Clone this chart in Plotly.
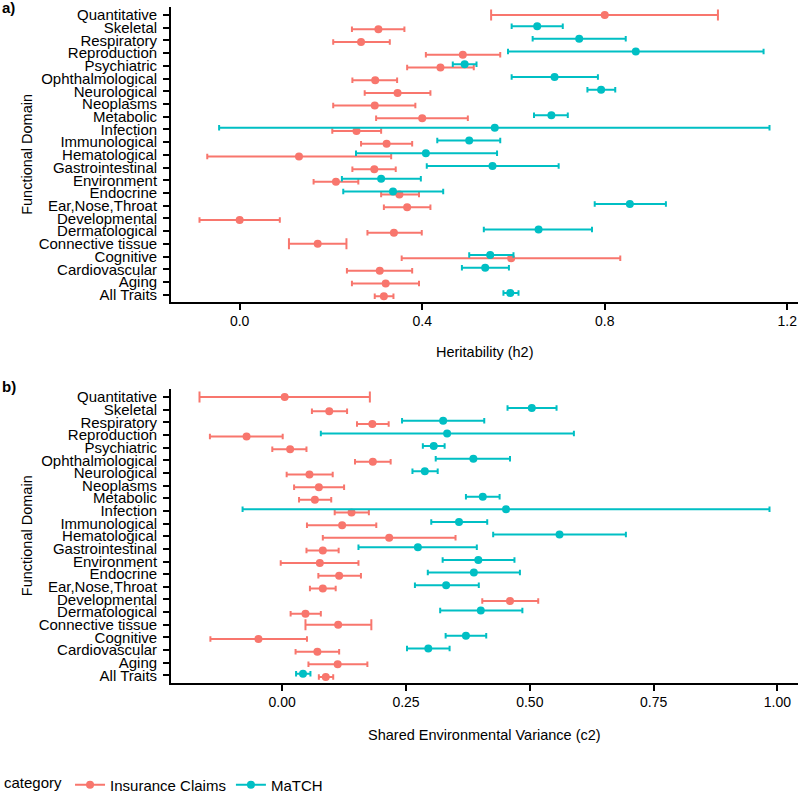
import plotly.graph_objects as go

# ---------------- data (listed top to bottom as shown) ----------------
categories = ["Quantitative", "Skeletal", "Respiratory", "Reproduction", "Psychiatric",
              "Ophthalmological", "Neurological", "Neoplasms", "Metabolic", "Infection",
              "Immunological", "Hematological", "Gastrointestinal", "Environment",
              "Endocrine", "Ear,Nose,Throat", "Developmental", "Dermatological",
              "Connective tissue", "Cognitive", "Cardiovascular", "Aging", "All Traits"]

# categories with no MaTCH row at all (Insurance point is centred)
no_match_row = ["Quantitative", "Connective tissue"]

# Panel a: heritability (h2)
ins_h2 = [0.800, 0.304, 0.266, 0.489, 0.440, 0.297, 0.346, 0.296, 0.400, 0.256, 0.322, 0.130,
          0.295, 0.211, 0.350, 0.367, 0.000, 0.338, 0.171, 0.595, 0.307, 0.320, 0.316]
ins_h2_lo = [0.551, 0.246, 0.205, 0.408, 0.367, 0.247, 0.274, 0.205, 0.299, 0.203, 0.266, -0.071,
             0.247, 0.162, 0.310, 0.316, -0.088, 0.280, 0.108, 0.355, 0.235, 0.246, 0.296]
ins_h2_hi = [1.048, 0.361, 0.329, 0.571, 0.513, 0.345, 0.418, 0.385, 0.500, 0.310, 0.378, 0.332,
             0.342, 0.260, 0.393, 0.418, 0.088, 0.399, 0.234, 0.834, 0.378, 0.393, 0.337]

mat_h2 = [None, 0.652, 0.744, 0.868, 0.493, 0.690, 0.792, None, 0.683, 0.559, 0.503, 0.408,
          0.554, 0.310, 0.336, 0.855, None, 0.655, None, 0.549, 0.538, None, 0.593]
mat_h2_lo = [None, 0.596, 0.642, 0.588, 0.467, 0.596, 0.762, None, 0.645, -0.045, 0.433, 0.255,
             0.410, 0.224, 0.227, 0.778, None, 0.535, None, 0.503, 0.487, None, 0.578]
mat_h2_hi = [None, 0.708, 0.846, 1.148, 0.519, 0.785, 0.823, None, 0.719, 1.161, 0.571, 0.564,
             0.699, 0.397, 0.446, 0.934, None, 0.772, None, 0.600, 0.590, None, 0.611]

# Panel b: shared environmental variance (c2)
ins_c2 = [0.005, 0.095, 0.182, -0.072, 0.016, 0.183, 0.055, 0.074, 0.066, 0.140, 0.121, 0.216,
          0.082, 0.076, 0.115, 0.082, 0.460, 0.047, 0.113, -0.048, 0.071, 0.112, 0.088]
ins_c2_lo = [-0.167, 0.060, 0.151, -0.146, -0.020, 0.147, 0.009, 0.024, 0.034, 0.106, 0.050, 0.082,
             0.049, -0.003, 0.073, 0.056, 0.404, 0.017, 0.047, -0.145, 0.027, 0.053, 0.074]
ins_c2_hi = [0.177, 0.131, 0.215, 0.001, 0.049, 0.219, 0.102, 0.125, 0.099, 0.175, 0.190, 0.350,
             0.114, 0.154, 0.159, 0.108, 0.517, 0.078, 0.180, 0.050, 0.115, 0.172, 0.103]

mat_c2 = [None, 0.504, 0.325, 0.333, 0.306, 0.386, 0.288, None, 0.405, 0.452, 0.357, 0.560,
          0.274, 0.396, 0.387, 0.331, None, 0.401, None, 0.371, 0.295, None, 0.042]
mat_c2_lo = [None, 0.455, 0.242, 0.078, 0.284, 0.310, 0.263, None, 0.371, -0.080, 0.301, 0.426,
             0.154, 0.324, 0.294, 0.268, None, 0.319, None, 0.330, 0.252, None, 0.028]
mat_c2_hi = [None, 0.554, 0.408, 0.589, 0.328, 0.460, 0.314, None, 0.439, 0.984, 0.414, 0.694,
             0.393, 0.469, 0.480, 0.397, None, 0.485, None, 0.412, 0.338, None, 0.057]

x_ticks_a = [0.0, 0.4, 0.8, 1.2]
x_ticks_b = [0.0, 0.25, 0.5, 0.75, 1.0]

# ---------------- styling ----------------
RED = "#F8766D"
TEAL = "#00BFC4"
FONT = "Liberation Sans, Arial, sans-serif"
DODGE = 0.125
W, H = 800, 794
ML, MR = 171, 2
PW = W - ML - MR

n = len(categories)
ypos = {c: n - i for i, c in enumerate(categories)}  # top category highest


def px_x(px):
    return (px - ML) / PW


def px_y(py):
    return 1 - py / H


fig = go.Figure()


def add_panel(ins, ins_lo, ins_hi, mat, mat_lo, mat_hi, xa, ya):
    # Insurance claims: dodged (paired) and centred (no MaTCH row)
    for centred in (False, True):
        xs, ys, ep, em = [], [], [], []
        for c, v, lo, hi in zip(categories, ins, ins_lo, ins_hi):
            if (c in no_match_row) != centred:
                continue
            xs.append(v)
            ys.append(ypos[c] - (0 if centred else DODGE))
            ep.append(hi - v)
            em.append(v - lo)
        fig.add_trace(go.Scatter(
            x=xs, y=ys, mode="markers", xaxis=xa, yaxis=ya, showlegend=False,
            marker=dict(color=RED, size=8),
            error_x=dict(type="data", symmetric=False, array=ep, arrayminus=em,
                         color=RED, thickness=2, width=5.5 if centred else 2.75),
            hoverinfo="x+y"))
    xs, ys, ep, em = [], [], [], []
    for c, v, lo, hi in zip(categories, mat, mat_lo, mat_hi):
        if v is None:
            continue
        xs.append(v)
        ys.append(ypos[c] + DODGE)
        ep.append(hi - v)
        em.append(v - lo)
    fig.add_trace(go.Scatter(
        x=xs, y=ys, mode="markers", xaxis=xa, yaxis=ya, showlegend=False,
        marker=dict(color=TEAL, size=8),
        error_x=dict(type="data", symmetric=False, array=ep, arrayminus=em,
                     color=TEAL, thickness=2, width=2.75),
        hoverinfo="x+y"))


add_panel(ins_h2, ins_h2_lo, ins_h2_hi, mat_h2, mat_h2_lo, mat_h2_hi, "x", "y")
add_panel(ins_c2, ins_c2_lo, ins_c2_hi, mat_c2, mat_c2_lo, mat_c2_hi, "x2", "y2")

# legend entries
for name, col in (("Insurance Claims", RED), ("MaTCH", TEAL)):
    fig.add_trace(go.Scatter(x=[None], y=[None], mode="lines+markers", name=name,
                             line=dict(color=col, width=2), marker=dict(color=col, size=8),
                             xaxis="x2", yaxis="y2"))


def xrange(*arrs):
    vals = [v for a in arrs for v in a if v is not None]
    lo, hi = min(vals), max(vals)
    pad = (hi - lo) * 0.05
    return [lo - pad, hi + pad]


axis_common = dict(showline=True, linecolor="black", linewidth=1.8, ticks="outside",
                   ticklen=6, tickwidth=1.8, tickcolor="black", showgrid=False, zeroline=False,
                   tickfont=dict(family=FONT, size=14, color="black"), automargin=False,
                   ticklabeloverflow="allow")

y_dom_a = [px_y(302.3), px_y(7.4)]
y_dom_b = [px_y(683.0), px_y(389.4)]

yaxis_common = dict(axis_common, tickvals=[ypos[c] for c in categories], ticktext=categories,
                    range=[0.4, n + 0.6], tickfont=dict(family=FONT, size=15, color="black"),
                    ticklabelstandoff=3)

fig.update_layout(
    width=W, height=H,
    margin=dict(l=ML, r=MR, t=0, b=0, autoexpand=False),
    paper_bgcolor="white", plot_bgcolor="white",
    font=dict(family=FONT, color="black"),
    xaxis=dict(axis_common, domain=[0, 1], anchor="y",
               range=xrange(ins_h2_lo, ins_h2_hi, mat_h2_lo, mat_h2_hi),
               tickvals=x_ticks_a, tickformat=".1f", ticklabelstandoff=-1),
    yaxis=dict(yaxis_common, domain=y_dom_a, anchor="x"),
    xaxis2=dict(axis_common, domain=[0, 1], anchor="y2",
                range=xrange(ins_c2_lo, ins_c2_hi, mat_c2_lo, mat_c2_hi),
                tickvals=x_ticks_b, tickformat=".2f", ticklabelstandoff=-1),
    yaxis2=dict(yaxis_common, domain=y_dom_b, anchor="x2"),
    showlegend=True,
    legend=dict(orientation="h", xref="container", yref="container",
                x=2 / W, xanchor="left", y=1 - 785 / H, yanchor="middle",
                title=dict(text="category", side="left", font=dict(family=FONT, size=15)),
                font=dict(family=FONT, size=15, color="black"), bgcolor="rgba(0,0,0,0)",
                itemwidth=30, tracegroupgap=0),
)

ann = []
ann.append(dict(text="<b>a)</b>", x=px_x(0), y=px_y(-3), xref="paper", yref="paper",
                xanchor="left", yanchor="top", showarrow=False, font=dict(size=15)))
ann.append(dict(text="<b>b)</b>", x=px_x(0), y=px_y(376), xref="paper", yref="paper",
                xanchor="left", yanchor="top", showarrow=False, font=dict(size=15)))
for yc in ((302.3 + 7.4) / 2, (683 + 389.4) / 2):
    ann.append(dict(text="Functional Domain", textangle=-90, x=px_x(17), y=px_y(yc),
                    xref="paper", yref="paper", xanchor="left", yanchor="middle",
                    showarrow=False, font=dict(size=14.5)))
ann.append(dict(text="Heritability (h2)", x=0.5, y=px_y(352), xref="paper", yref="paper",
                xanchor="center", yanchor="middle", showarrow=False, font=dict(size=14.5)))
ann.append(dict(text="Shared Environmental Variance (c2)", x=0.5, y=px_y(735), xref="paper",
                yref="paper", xanchor="center", yanchor="middle", showarrow=False,
                font=dict(size=14.5)))
fig.update_layout(annotations=ann)

fig.write_html("out.html", config={"displayModeBar": False},
               post_script="document.body.style.margin='0';document.body.style.padding='0';")
